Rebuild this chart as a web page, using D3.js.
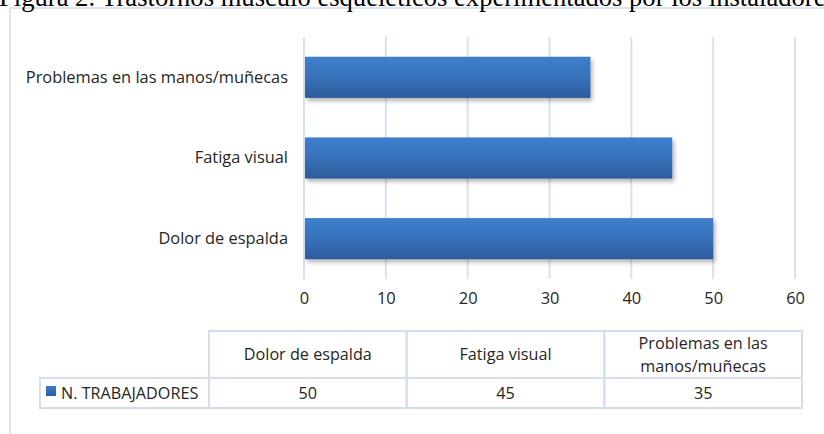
<!DOCTYPE html>
<meta charset="utf-8">
<script src="https://d3js.org/d3.v7.min.js"></script>
<style>
  body { margin: 0; background: #fff; }
  text { font-family: "Open Sans", Lato, sans-serif; fill: #262626; }
</style>
<svg id="chart" width="824" height="434"></svg>
<script>

// data
var titleText = "Figura 2. Trastornos musculo esqueléticos experimentados por los instaladores";
var categories = ["Dolor de espalda", "Fatiga visual", "Problemas en las manos/muñecas"];
var values = [50, 45, 35];
var seriesName = "N. TRABAJADORES";
var xTicks = [0, 10, 20, 30, 40, 50, 60];

var svg = d3.select("#chart"),
  width = +svg.attr("width"),
  height = +svg.attr("height");

var labelFont = 16.4;

var defs = svg.append("defs");
var grad = defs.append("linearGradient")
  .attr("id", "barGrad")
  .attr("x1", 0).attr("y1", 0).attr("x2", 0).attr("y2", 1);
grad.append("stop").attr("offset", "0%").attr("stop-color", "#3d7fcd");
grad.append("stop").attr("offset", "50%").attr("stop-color", "#3871ba");
grad.append("stop").attr("offset", "100%").attr("stop-color", "#2c5b9b");

var shadow = defs.append("filter")
  .attr("id", "shadow")
  .attr("x", "-5%").attr("y", "-20%").attr("width", "115%").attr("height", "150%");
shadow.append("feDropShadow")
  .attr("dx", 2).attr("dy", 3)
  .attr("stdDeviation", 2)
  .attr("flood-color", "#000")
  .attr("flood-opacity", 0.3);

var keyGrad = defs.append("linearGradient")
  .attr("id", "keyGrad")
  .attr("x1", 0).attr("y1", 0).attr("x2", 0).attr("y2", 1);
keyGrad.append("stop").attr("offset", "0%").attr("stop-color", "#3d7fcd");
keyGrad.append("stop").attr("offset", "100%").attr("stop-color", "#2c5b9b");

// outer frame (runs off the page)
svg.append("rect")
  .attr("x", 10).attr("y", 8)
  .attr("width", width + 20).attr("height", height + 20)
  .attr("fill", "none")
  .attr("stroke", "#dae4f2")
  .attr("stroke-width", 2);

// title, cut at top of the page like the scan
svg.append("text")
  .attr("x", -1).attr("y", 5.5)
  .style("font-family", "'Liberation Serif', 'DejaVu Serif', serif")
  .style("font-size", "26.6px")
  .style("fill", "#000")
  .text(titleText);

// scales
var x = d3.scaleLinear()
  .domain([0, 60])
  .range([304, 795]);

var y = d3.scaleBand()
  .domain(categories.slice().reverse())
  .range([37, 279])
  .paddingInner(0.49)
  .paddingOuter(0.245);

// gridlines
svg.append("g")
  .selectAll("line")
  .data(xTicks)
  .enter()
  .append("line")
    .attr("x1", function(d) { return x(d); })
    .attr("x2", function(d) { return x(d); })
    .attr("y1", 37)
    .attr("y2", 279)
    .attr("stroke", "#d7e2f1")
    .attr("stroke-width", 2);

// bars
svg.append("g")
  .selectAll("rect")
  .data(categories)
  .enter()
  .append("rect")
    .attr("x", x(0) + 1)
    .attr("y", function(d) { return y(d); })
    .attr("width", function(d, i) { return x(values[i]) - x(0) - 1; })
    .attr("height", y.bandwidth())
    .attr("fill", "url(#barGrad)")
    .attr("filter", "url(#shadow)");

// category labels
var yAxis = svg.append("g")
  .attr("transform", "translate(" + x(0) + ",0)")
  .call(d3.axisLeft(y).tickSize(0).tickPadding(16));
yAxis.select(".domain").remove();
yAxis.selectAll("text")
  .style("font-family", "'Open Sans', sans-serif")
  .style("font-size", labelFont + "px")
  .style("fill", "#262626");

// x tick labels
var xAxis = svg.append("g")
  .attr("transform", "translate(0,288)")
  .call(d3.axisBottom(x).tickValues(xTicks).tickSize(0).tickPadding(4));
xAxis.select(".domain").remove();
xAxis.selectAll("text")
  .style("font-family", "'Open Sans', sans-serif")
  .style("font-size", labelFont + "px")
  .style("fill", "#262626");

// data table
var col = d3.scaleBand()
  .domain(categories)
  .range([209, 802]);
var tableLeft = 40, headTop = 331, rowTop = 378, rowBottom = 408;
var tableColor = "#d3dff0";
var tableFont = 16.2;

var table = svg.append("g");

// header cells
table.selectAll("rect.head")
  .data(categories)
  .enter()
  .append("rect")
    .attr("class", "head")
    .attr("x", function(d) { return col(d); })
    .attr("y", headTop)
    .attr("width", col.bandwidth())
    .attr("height", rowTop - headTop)
    .attr("fill", "none")
    .attr("stroke", tableColor)
    .attr("stroke-width", 2);

// value row cells
table.append("rect")
  .attr("x", tableLeft).attr("y", rowTop)
  .attr("width", col(categories[0]) - tableLeft)
  .attr("height", rowBottom - rowTop)
  .attr("fill", "none")
  .attr("stroke", tableColor)
  .attr("stroke-width", 2);

table.selectAll("rect.val")
  .data(categories)
  .enter()
  .append("rect")
    .attr("class", "val")
    .attr("x", function(d) { return col(d); })
    .attr("y", rowTop)
    .attr("width", col.bandwidth())
    .attr("height", rowBottom - rowTop)
    .attr("fill", "none")
    .attr("stroke", tableColor)
    .attr("stroke-width", 2);

// header labels, wrapped
function wrapWords(label, maxW, size) {
  var probe = svg.append("text").style("font-size", size + "px");
  var words = label.split(" "), lines = [], line = [];
  words.forEach(function(w) {
    line.push(w);
    probe.text(line.join(" "));
    if (probe.node().getComputedTextLength() > maxW && line.length > 1) {
      line.pop();
      lines.push(line.join(" "));
      line = [w];
    }
  });
  lines.push(line.join(" "));
  probe.remove();
  return lines;
}

categories.forEach(function(c) {
  var lines = wrapWords(c, col.bandwidth() - 16, tableFont);
  var mid = (headTop + rowTop) / 2;
  var t = table.append("text")
    .attr("text-anchor", "middle")
    .style("font-size", tableFont + "px");
  lines.forEach(function(l, i) {
    t.append("tspan")
      .attr("x", col(c) + col.bandwidth() / 2)
      .attr("y", mid + 5.5 + (i - (lines.length - 1) / 2) * 23)
      .text(l);
  });
});

// values
table.selectAll("text.val")
  .data(categories)
  .enter()
  .append("text")
    .attr("class", "val")
    .attr("x", function(d) { return col(d) + col.bandwidth() / 2; })
    .attr("y", (rowTop + rowBottom) / 2 + 5.5)
    .attr("text-anchor", "middle")
    .style("font-size", tableFont + "px")
    .text(function(d, i) { return values[i]; });

// legend key
table.append("rect")
  .attr("x", 46).attr("y", 386)
  .attr("width", 10).attr("height", 10)
  .attr("fill", "url(#keyGrad)");
table.append("text")
  .attr("x", 61)
  .attr("y", (rowTop + rowBottom) / 2 + 5.5)
  .style("font-size", tableFont + "px")
  .text(seriesName);

</script>
